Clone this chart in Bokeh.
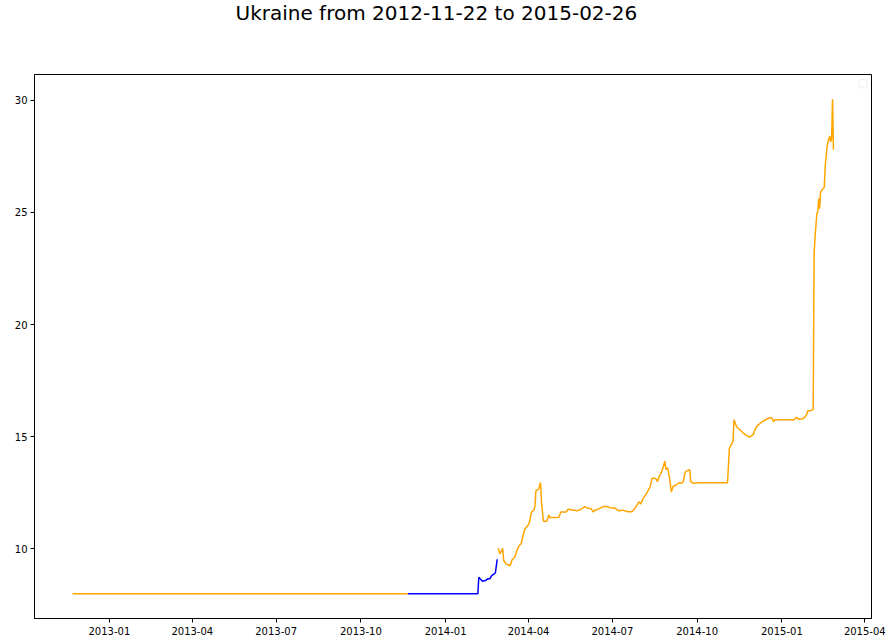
import pandas as pd
from bokeh.plotting import figure
from bokeh.models import Range1d, FixedTicker, DatetimeTickFormatter, BoxAnnotation, Title
from bokeh.embed import file_html
from bokeh.resources import INLINE

title_text = "Ukraine from 2012-11-22 to 2015-02-26"

orange1_dates = ["2012-11-22", "2013-11-21"]
orange1_values = [7.99, 7.99]

blue_dates = ["2013-11-21", "2014-02-05", "2014-02-06", "2014-02-10", "2014-02-13",
              "2014-02-16", "2014-02-18", "2014-02-20", "2014-02-24", "2014-02-26"]
blue_values = [7.99, 7.99, 8.73, 8.55, 8.58, 8.66, 8.66, 8.80, 8.92, 9.53]

orange2_dates = [
    "2014-02-27", "2014-03-01", "2014-03-04", "2014-03-05", "2014-03-08", "2014-03-12",
    "2014-03-14", "2014-03-17", "2014-03-20", "2014-03-22", "2014-03-24", "2014-03-26",
    "2014-03-28", "2014-03-31", "2014-04-02", "2014-04-04", "2014-04-07", "2014-04-08",
    "2014-04-09", "2014-04-12", "2014-04-14", "2014-04-15", "2014-04-17", "2014-04-18",
    "2014-04-21", "2014-04-23", "2014-04-24", "2014-04-29", "2014-05-04", "2014-05-06",
    "2014-05-12", "2014-05-14", "2014-05-19", "2014-05-24", "2014-05-28", "2014-06-01",
    "2014-06-04", "2014-06-08", "2014-06-10", "2014-06-13", "2014-06-17", "2014-06-21",
    "2014-06-25", "2014-06-30", "2014-07-03", "2014-07-08", "2014-07-12", "2014-07-18",
    "2014-07-22", "2014-07-26", "2014-07-30", "2014-08-01", "2014-08-03", "2014-08-07",
    "2014-08-11", "2014-08-13", "2014-08-16", "2014-08-18", "2014-08-19", "2014-08-21",
    "2014-08-23", "2014-08-25", "2014-08-27", "2014-08-28", "2014-08-30", "2014-09-01",
    "2014-09-02", "2014-09-03", "2014-09-05", "2014-09-08", "2014-09-11", "2014-09-14",
    "2014-09-16", "2014-09-18", "2014-09-20", "2014-09-23", "2014-09-24", "2014-09-27",
    "2014-10-02", "2014-10-09", "2014-11-03", "2014-11-05", "2014-11-09", "2014-11-10",
    "2014-11-13", "2014-11-16", "2014-11-20", "2014-11-23", "2014-11-27", "2014-12-01",
    "2014-12-03", "2014-12-05", "2014-12-10", "2014-12-13", "2014-12-19", "2014-12-21",
    "2014-12-23", "2014-12-24", "2015-01-08", "2015-01-14", "2015-01-17", "2015-01-19",
    "2015-01-24", "2015-01-26", "2015-01-28", "2015-01-29", "2015-02-02", "2015-02-04",
    "2015-02-05", "2015-02-06", "2015-02-08", "2015-02-09", "2015-02-10", "2015-02-11",
    "2015-02-12", "2015-02-14", "2015-02-16", "2015-02-17", "2015-02-19", "2015-02-21",
    "2015-02-22", "2015-02-23", "2015-02-24", "2015-02-25", "2015-02-26",
]
orange2_values = [
    10.02, 9.77, 10.02, 9.47, 9.32, 9.24,
    9.50, 9.62, 9.99, 10.14, 10.22, 10.58,
    10.88, 11.02, 11.17, 11.62, 11.73, 11.92,
    12.58, 12.66, 12.95, 12.13, 11.27, 11.21,
    11.24, 11.51, 11.39, 11.39, 11.40, 11.64,
    11.64, 11.76, 11.73, 11.69, 11.76, 11.88,
    11.81, 11.79, 11.64, 11.73, 11.79, 11.88,
    11.88, 11.81, 11.83, 11.69, 11.72, 11.65,
    11.65, 11.83, 12.09, 12.00, 12.21, 12.46,
    12.76, 13.14, 13.14, 13.09, 12.99, 13.24,
    13.39, 13.61, 13.91, 13.54, 13.61, 13.17,
    12.87, 12.53, 12.79, 12.83, 12.94, 12.92,
    12.99, 13.42, 13.47, 13.52, 12.99, 12.92,
    12.94, 12.94, 12.94, 14.47, 14.80, 15.75,
    15.43, 15.32, 15.17, 15.07, 14.98, 15.10,
    15.32, 15.47, 15.65, 15.73, 15.84, 15.84,
    15.65, 15.75, 15.75, 15.74, 15.86, 15.78,
    15.80, 15.87, 15.99, 16.14, 16.17, 16.22,
    23.16, 23.90, 24.95, 25.02, 25.62, 25.17,
    25.91, 26.02, 26.11, 27.03, 27.93, 28.30,
    28.41, 28.15, 28.30, 30.05, 27.80,
]

x_tick_labels = ["2013-01", "2013-04", "2013-07", "2013-10", "2014-01",
                 "2014-04", "2014-07", "2014-10", "2015-01", "2015-04"]
y_ticks = [10, 15, 20, 25, 30]

FONT = "DejaVu Sans"
W, H = 888, 643
ML, MR, MT, MB = 34, 17, 74, 25

all_dates = pd.to_datetime(orange1_dates + blue_dates + orange2_dates)
all_vals = orange1_values + blue_values + orange2_values
x0, x1 = all_dates.min(), all_dates.max()
xm = (x1 - x0) * 0.05
y0, y1 = min(all_vals), max(all_vals)
ym = (y1 - y0) * 0.05
xr = Range1d(x0 - xm, x1 + xm)
yr = Range1d(y0 - ym, y1 + ym)

p = figure(width=W, height=H, x_axis_type="datetime", x_range=xr, y_range=yr,
           output_backend="svg", toolbar_location=None,
           min_border_left=ML, min_border_right=MR, min_border_top=MT, min_border_bottom=MB)
p.title.text = ""

# spacer panel between the frame and the title, so the title sits at the top of the canvas
spacer = Title(text=" ", text_font_size="1px", standoff=45)
p.add_layout(spacer, "above")
main_title = Title(text=title_text, align="left", offset=201, vertical_align="top",
                   standoff=0, text_font=FONT, text_font_size="20px",
                   text_font_style="normal", text_color="black")
p.add_layout(main_title, "above")

p.grid.visible = False
p.background_fill_color = "white"
p.border_fill_color = "white"
p.outline_line_color = "black"
p.outline_line_width = 1

for ax in (p.xaxis[0], p.yaxis[0]):
    ax.axis_line_color = "black"
    ax.axis_line_width = 1
    ax.major_tick_line_color = "black"
    ax.major_tick_out = 4
    ax.major_tick_in = 0
    ax.minor_tick_line_color = None
    ax.major_label_text_font = FONT
    ax.major_label_text_font_size = "10px"
    ax.major_label_text_color = "black"

p.xaxis[0].ticker = FixedTicker(ticks=[pd.Timestamp(t + "-01").value // 10**6 for t in x_tick_labels])
fmt = "%Y-%m"
p.xaxis[0].formatter = DatetimeTickFormatter(years=fmt, months=fmt, days=fmt, hours=fmt,
                                             minutes=fmt, seconds=fmt, milliseconds=fmt,
                                             microseconds=fmt, hourmin=fmt, minsec=fmt)
p.xaxis[0].major_label_standoff = 4
p.yaxis[0].ticker = FixedTicker(ticks=y_ticks)
p.yaxis[0].major_label_standoff = 3

p.line(pd.to_datetime(orange1_dates), orange1_values, color="orange", line_width=1.5)
p.line(pd.to_datetime(blue_dates), blue_values, color="blue", line_width=1.5)
p.line(pd.to_datetime(orange2_dates), orange2_values, color="orange", line_width=1.5)

# empty legend box in the upper right corner (as in the reference)
frame_w, frame_h = W - ML - MR, H - MT - MB
xs = (xr.end - xr.start) / frame_w
ys = (yr.end - yr.start) / frame_h
legend_box = BoxAnnotation(left=xr.end - xs * 12.7, right=xr.end - xs * 4.3,
                           top=yr.end - ys * 5.0, bottom=yr.end - ys * 13.4,
                           fill_color="white", fill_alpha=1.0,
                           line_color="#cccccc", line_width=1, border_radius=2)
p.add_layout(legend_box)

open("out.html", "w").write(file_html(p, INLINE))
